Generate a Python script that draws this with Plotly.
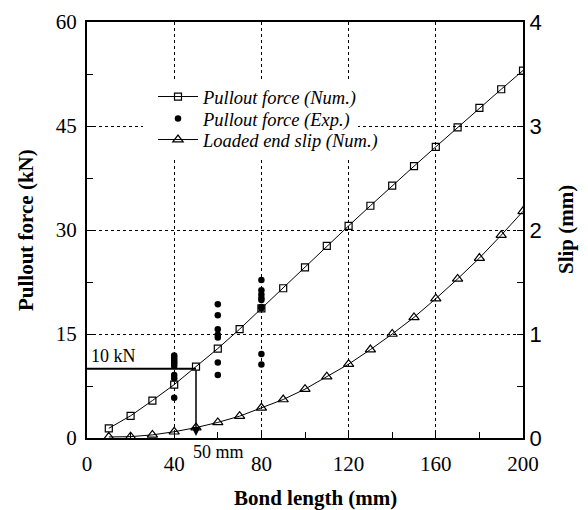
import plotly.graph_objects as go

# ---- data ----
bond_len = [10, 20, 30, 40, 50, 60, 70, 80, 90, 100, 110, 120, 130, 140, 150, 160, 170, 180, 190, 200]
force_num = [1.4, 3.2, 5.4, 7.7, 10.3, 12.9, 15.7, 18.7, 21.6, 24.6, 27.7, 30.6, 33.5, 36.4, 39.2, 42.0, 44.8, 47.6, 50.3, 53.0]
slip_num = [0.01, 0.013, 0.03, 0.06, 0.1, 0.15, 0.21, 0.29, 0.37, 0.47, 0.59, 0.71, 0.85, 1.0, 1.16, 1.34, 1.53, 1.73, 1.95, 2.18]

exp_x = [40] * 9 + [60] * 7 + [80] * 9
exp_force = [11.9, 11.6, 11.3, 11.0, 10.7, 10.4, 9.1, 8.6, 5.8,
             19.3, 17.7, 15.7, 14.9, 14.5, 10.9, 9.1,
             22.8, 21.3, 20.7, 20.2, 19.9, 18.9, 18.7, 12.1, 10.6]

x_ticks = [0, 40, 80, 120, 160, 200]
y_ticks = [0, 15, 30, 45, 60]
y2_ticks = [0, 1, 2, 3, 4]

ref_force = 10
ref_len = 50

SERIF = "Liberation Serif"
SANS = "Liberation Sans"

fig = go.Figure()
fig.add_trace(go.Scatter(
    x=bond_len, y=force_num, mode="lines+markers", name="Pullout force (Num.)",
    legend="legend",
    line=dict(color="black", width=1),
    marker=dict(symbol="square-open", size=7, color="black", line=dict(width=1.2)),
))
fig.add_trace(go.Scatter(
    x=exp_x, y=exp_force, mode="markers", name="Pullout force (Exp.)",
    legend="legend2",
    marker=dict(symbol="circle", size=6.5, color="black"),
))
fig.add_trace(go.Scatter(
    x=bond_len, y=slip_num, mode="lines+markers", name="Loaded end slip (Num.)",
    yaxis="y2", legend="legend3",
    line=dict(color="black", width=1),
    marker=dict(symbol="triangle-up-open", size=9, color="black", line=dict(width=1.2)),
))

# white box behind legend (covers grid)
fig.add_shape(type="rect", xref="paper", yref="paper",
              x0=(143 - 87) / 436, x1=(358 - 87) / 436,
              y0=(438 - 157) / 416, y1=(438 - 82) / 416,
              fillcolor="white", line=dict(width=0), layer="above")

# reference lines
fig.add_shape(type="line", x0=0, x1=ref_len, y0=ref_force, y1=ref_force,
              xref="x", yref="y", line=dict(color="black", width=2))
fig.add_annotation(x=ref_len, y=0.3, ax=ref_len, ay=ref_force, xref="x", yref="y",
                   axref="x", ayref="y", showarrow=True, arrowhead=2, arrowsize=1.2,
                   arrowwidth=1.5, arrowcolor="black", text="")
fig.add_annotation(x=1, y=ref_force, xref="x", yref="y", text=f"{ref_force} kN",
                   showarrow=False, xanchor="left", yanchor="bottom", yshift=1,
                   font=dict(family=SERIF, size=18, color="black"))
fig.add_annotation(x=ref_len, y=0, xref="x", yref="paper", text=f"{ref_len} mm",
                   showarrow=False, xanchor="left", yanchor="middle", yshift=-14, xshift=-5,
                   font=dict(family=SERIF, size=18, color="black"))

# axis titles
fig.add_annotation(x=(26 - 87) / 436, y=0.5, xref="paper", yref="paper",
                   text="<b>Pullout force (kN)</b>", xanchor="center", yanchor="middle",
                   textangle=-90, showarrow=False, font=dict(family=SERIF, size=21, color="black"))
fig.add_annotation(x=(566 - 87) / 436, y=0.5, xref="paper", yref="paper",
                   text="<b>Slip (mm)</b>", xanchor="center", yanchor="middle",
                   textangle=-90, showarrow=False, font=dict(family=SERIF, size=21, color="black"))
fig.add_annotation(x=(315 - 87) / 436, y=-(498 - 438) / 416, xref="paper", yref="paper",
                   text="<b>Bond length (mm)</b>", xanchor="center", yanchor="middle",
                   showarrow=False, font=dict(family=SERIF, size=21, color="black"))

leg_common = dict(x=(153 - 87) / 436, xanchor="left", yanchor="middle", bgcolor="rgba(0,0,0,0)",
                  font=dict(family=SERIF, size=18.5, color="black", style="italic"),
                  itemwidth=40)

fig.update_layout(
    width=588, height=510,
    margin=dict(l=87, r=65, t=22, b=72, autoexpand=False),
    paper_bgcolor="white", plot_bgcolor="white",
    showlegend=True,
    legend=dict(y=(438 - 97) / 416, **leg_common),
    legend2=dict(y=(438 - 119) / 416, **leg_common),
    legend3=dict(y=(438 - 140) / 416, **leg_common),
    xaxis=dict(range=[0, 200], tickvals=x_ticks, ticks="inside", ticklen=6, tickwidth=1,
               tickcolor="black", showline=True, linecolor="black", linewidth=2, mirror=True,
               showgrid=True, gridcolor="black", griddash="dot", gridwidth=1,
               tickfont=dict(family=SERIF, size=21, color="black"), ticklabelstandoff=6,
               minor=dict(dtick=20, ticks="inside", ticklen=6, tickcolor="black", showgrid=False),
               zeroline=False, automargin=False),
    yaxis=dict(range=[0, 60], tickvals=y_ticks, ticks="inside", ticklen=6, tickwidth=1,
               tickcolor="black", showline=True, linecolor="black", linewidth=2,
               showgrid=True, gridcolor="black", griddash="dot", gridwidth=1,
               tickfont=dict(family=SERIF, size=21, color="black"), ticklabelstandoff=4,
               minor=dict(dtick=7.5, ticks="inside", ticklen=6, tickcolor="black", showgrid=False),
               zeroline=False, automargin=False),
    yaxis2=dict(range=[0, 4], tickvals=y2_ticks, overlaying="y", side="right", ticks="inside",
                ticklen=6, tickwidth=1, tickcolor="black", showline=True, linecolor="black",
                linewidth=2, showgrid=False,
                tickfont=dict(family=SANS, size=22, color="black"),
                minor=dict(dtick=0.5, ticks="inside", ticklen=6, tickcolor="black"),
                zeroline=False, automargin=False),
)

fig.write_html("out.html", config={"displayModeBar": False},
               post_script="document.body.style.margin='0';")
